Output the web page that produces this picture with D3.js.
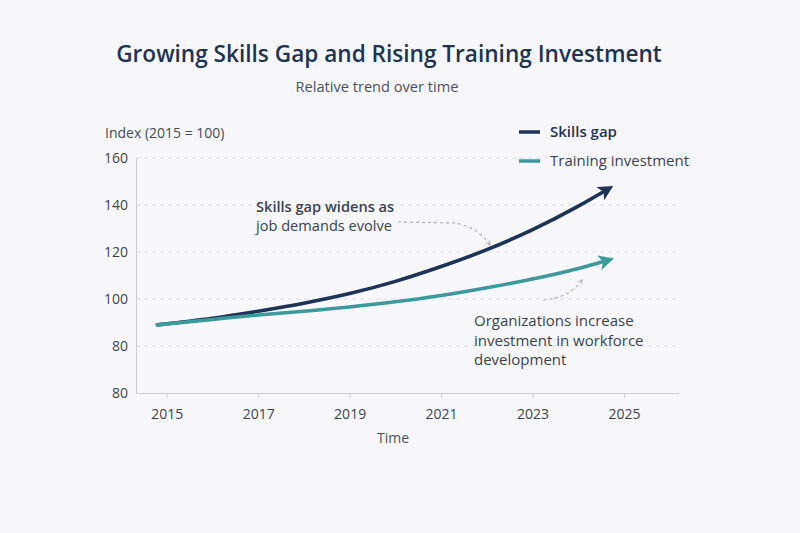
<!DOCTYPE html>
<html>
<head>
<meta charset="utf-8">
<script src="https://cdn.jsdelivr.net/npm/d3@7/dist/d3.min.js"></script>
<style>
  html, body { margin: 0; padding: 0; background: #f8f8fc; }
  svg { display: block; font-family: "Open Sans", "Noto Sans", sans-serif; }
</style>
</head>
<body>
<svg id="chart" width="800" height="533"></svg>
<script>
// ---- data ----
const years = [2014.8, 2016, 2017, 2018, 2019, 2020, 2021, 2022, 2023, 2024, 2024.65];
const skillsGap = [89.0, 91.8, 94.8, 98.2, 102.3, 107.5, 113.8, 121.0, 129.5, 139.5, 146.8];
const trainingInvestment = [89.0, 91.3, 93.2, 94.8, 96.6, 98.8, 101.5, 104.8, 108.5, 113.0, 116.5];
const xTickValues = [2015, 2017, 2019, 2021, 2023, 2025];
const yTickValues = [60, 80, 100, 120, 140, 160];
const yTickLabels = ["80", "80", "100", "120", "140", "160"];
const seriesNames = ["Skills gap", "Training investment"];
const seriesColors = ["#1d3358", "#3d9a9c"];

(function () {
const svg = d3.select("#chart");
const mLeft = 136, mRight = 679, mTop = 158, mBottom = 393;

const x = d3.scaleLinear().domain([2014.33, 2026.2]).range([mLeft, mRight]);
const y = d3.scaleLinear().domain([60, 160]).range([mBottom, mTop]);

// title
svg.append("text").attr("x", 389).attr("y", 62).attr("text-anchor", "middle")
  .attr("font-size", 22.6).attr("font-weight", 600).attr("fill", "#1d3354")
  .text("Growing Skills Gap and Rising Training Investment");
svg.append("text").attr("x", 377).attr("y", 92).attr("text-anchor", "middle")
  .attr("font-size", 14.6).attr("fill", "#4a5260")
  .text("Relative trend over time");

// y label
svg.append("text").attr("x", 105).attr("y", 138).attr("font-size", 14)
  .attr("fill", "#444b57").text("Index (2015 = 100)");

// gridlines
svg.append("g").selectAll("line").data(yTickValues.filter(v => v > 60)).join("line")
  .attr("x1", mLeft).attr("x2", mRight)
  .attr("y1", d => y(d)).attr("y2", d => y(d))
  .attr("stroke", "#dcdde3").attr("stroke-width", 1).attr("stroke-dasharray", "4,4");

// y axis
const yAxis = d3.axisLeft(y).tickValues(yTickValues)
  .tickFormat((d, i) => yTickLabels[i]).tickSize(0).tickPadding(8);
const yg = svg.append("g").attr("transform", `translate(${mLeft},0)`).call(yAxis);
yg.select(".domain").attr("stroke", "#c9cbd3");
yg.selectAll("text").attr("font-size", 14).attr("fill", "#3e4450")
  .attr("font-family", "'Open Sans', sans-serif");

// x axis
const xAxis = d3.axisBottom(x).tickValues(xTickValues).tickFormat(d3.format("d"))
  .tickSize(5).tickSizeOuter(0).tickPadding(11);
const xg = svg.append("g").attr("transform", `translate(0,${mBottom})`).call(xAxis);
xg.select(".domain").attr("stroke", "#c9cbd3");
xg.selectAll(".tick line").attr("stroke", "#c9cbd3");
xg.selectAll("text").attr("font-size", 14).attr("fill", "#3e4450")
  .attr("font-family", "'Open Sans', sans-serif");
svg.append("text").attr("x", 393).attr("y", 443).attr("text-anchor", "middle")
  .attr("font-size", 14).attr("fill", "#4a5260").text("Time");

// arrow markers
const defs = svg.append("defs");
seriesColors.forEach((c, i) => {
  defs.append("marker").attr("id", "arr" + i)
    .attr("viewBox", "0 0 10 10").attr("refX", 6).attr("refY", 5)
    .attr("markerWidth", 4.2).attr("markerHeight", 4.2).attr("orient", "auto")
    .attr("markerUnits", "strokeWidth")
    .append("path").attr("d", "M0,0 L10,5 L0,10 L2.5,5 Z").attr("fill", c);
});
defs.append("marker").attr("id", "arrAnn")
  .attr("viewBox", "0 0 10 10").attr("refX", 8).attr("refY", 5)
  .attr("markerWidth", 6).attr("markerHeight", 6).attr("orient", "auto")
  .attr("markerUnits", "userSpaceOnUse")
  .append("path").attr("d", "M1,1 L9,5 L1,9").attr("fill", "none")
  .attr("stroke", "#a9adb6").attr("stroke-width", 1.2);

// lines
const line = d3.line().x(d => x(d[0])).y(d => y(d[1])).curve(d3.curveMonotoneX);
[skillsGap, trainingInvestment].forEach((vals, i) => {
  svg.append("path").datum(years.map((yr, j) => [yr, vals[j]]))
    .attr("d", line).attr("fill", "none")
    .attr("stroke", seriesColors[i]).attr("stroke-width", 3.6)
    .attr("stroke-linecap", "round")
    .attr("marker-end", `url(#arr${i})`);
});

// legend
seriesNames.forEach((n, i) => {
  const ly = 132 + i * 29;
  svg.append("line").attr("x1", 519).attr("x2", 540).attr("y1", ly).attr("y2", ly)
    .attr("stroke", seriesColors[i]).attr("stroke-width", 3.5);
  svg.append("text").attr("x", 550).attr("y", ly + 5).attr("font-size", 15)
    .attr("font-weight", i === 0 ? 600 : 400)
    .attr("fill", i === 0 ? "#1d3354" : "#3e4450").text(n);
});

// annotations
const a1 = svg.append("text").attr("font-size", 14.6).attr("fill", "#3a4352");
a1.append("tspan").attr("x", 256).attr("y", 212).attr("font-weight", 600).text("Skills gap widens as");
a1.append("tspan").attr("x", 256).attr("y", 231).text("job demands evolve");
svg.append("path").attr("d", "M398,222 L455,223 Q478,227 490,245")
  .attr("fill", "none").attr("stroke", "#a9adb6").attr("stroke-width", 1.1)
  .attr("stroke-dasharray", "3,3").attr("marker-end", "url(#arrAnn)");

const a2 = svg.append("text").attr("font-size", 15).attr("fill", "#3a4352");
["Organizations increase", "investment in workforce", "development"].forEach((t, i) => {
  a2.append("tspan").attr("x", 474).attr("y", 326 + i * 19.5).text(t);
});
svg.append("path").attr("d", "M543,300 Q570,298 582,280")
  .attr("fill", "none").attr("stroke", "#a9adb6").attr("stroke-width", 1.1)
  .attr("stroke-dasharray", "3,3").attr("marker-end", "url(#arrAnn)");
})();
</script>
</body>
</html>
